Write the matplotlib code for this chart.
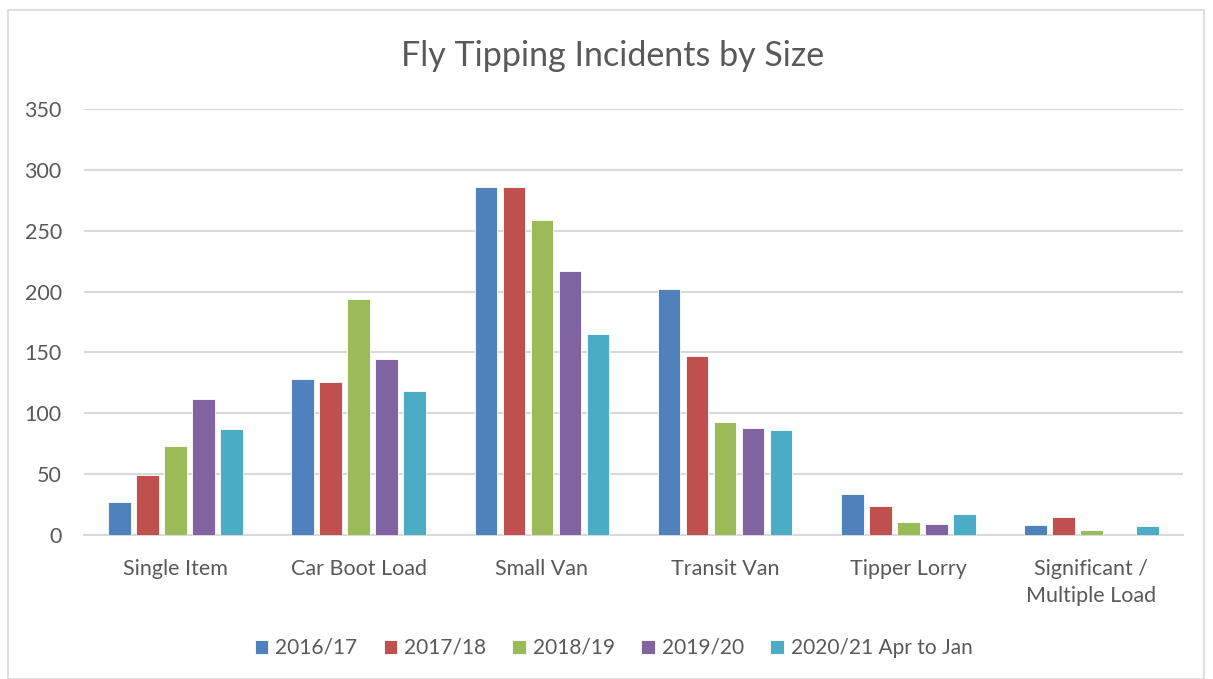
import numpy as np
from matplotlib import pyplot as plt
from matplotlib.patches import Rectangle

categories = ["Single Item", "Car Boot Load", "Small Van", "Transit Van",
              "Tipper Lorry", "Significant /\nMultiple Load"]
series_names = ["2016/17", "2017/18", "2018/19", "2019/20", "2020/21 Apr to Jan"]
v_2016 = [27, 128, 286, 202, 34, 8]
v_2017 = [49, 126, 286, 147, 24, 15]
v_2018 = [73, 194, 259, 93, 11, 4]
v_2019 = [112, 145, 217, 88, 9, 0]
v_2020 = [87, 118, 165, 86, 17, 7]
colors = ["#4F81BD", "#C0504D", "#9BBB59", "#8064A2", "#4BACC6"]

plt.rcParams['font.family'] = ['Lato', 'DejaVu Sans']
txt = "#595959"

fig = plt.figure(figsize=(12.13, 6.79), dpi=100)
fig.patches.append(Rectangle((8 / 1213, 0), 1196 / 1213, 669 / 679,
                             transform=fig.transFigure, fill=False,
                             edgecolor="#D9D9D9", lw=1.2))
ax = fig.add_axes([84 / 1213, 1 - 535 / 679, 1099 / 1213, 426 / 679])

x = np.arange(len(categories))
slot = 0.153
width = 0.124
all_vals = [v_2016, v_2017, v_2018, v_2019, v_2020]
for i, vals in enumerate(all_vals):
    ax.bar(x + (i - 2) * slot, vals, width, color=colors[i], label=series_names[i],
           edgecolor="white", linewidth=0.6, zorder=3)

ax.set_xlim(-0.5, len(categories) - 0.5)
ax.set_ylim(0, 350)
ax.set_yticks(range(0, 351, 50))
ax.yaxis.grid(True, color="#D9D9D9", lw=1.5, zorder=0)
ax.set_axisbelow(True)
for s in ["top", "right", "left"]:
    ax.spines[s].set_visible(False)
ax.spines["bottom"].set_color("#D9D9D9")
ax.spines["bottom"].set_linewidth(1.5)
ax.tick_params(axis="both", length=0, labelsize=15.5, colors=txt)
ax.tick_params(axis="y", pad=16)
ax.tick_params(axis="x", pad=17)
ax.set_xticks(x)
ax.set_xticklabels(categories, linespacing=1.45)
for lbl in ax.get_yticklabels():
    lbl.set_horizontalalignment("right")

fig.text(0.505, 1 - 56 / 679, "Fly Tipping Incidents by Size", ha="center",
         va="center", fontsize=24.5, color=txt)

fig.legend(loc="center", bbox_to_anchor=(0.506, 1 - 648 / 679), ncol=5,
           frameon=False, fontsize=15, labelcolor=txt, handlelength=0.65,
           handleheight=0.65, handletextpad=0.35, columnspacing=1.25)

fig.savefig("out.png", dpi=100)
